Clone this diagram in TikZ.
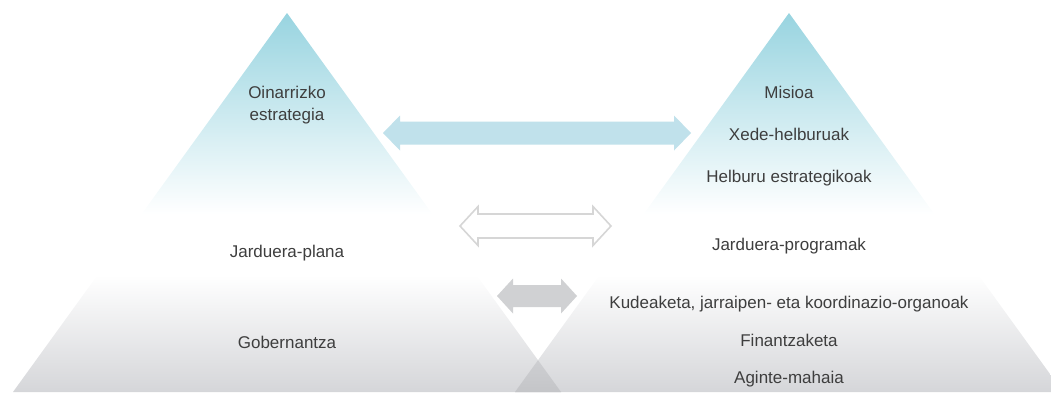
\documentclass[tikz,border=0pt]{standalone}
\usepackage{fontspec}
\setmainfont{Liberation Sans}
\usetikzlibrary{calc}
\usetikzlibrary{positioning}

\definecolor{pyrblue}{RGB}{152,212,224}
\definecolor{pyrbluemid}{RGB}{184,226,235}
\definecolor{pyrgray}{RGB}{213,214,217}
\definecolor{overgray}{RGB}{196,197,200}
\definecolor{overgraytop}{RGB}{206,207,210}
\definecolor{arrowblue}{RGB}{192,225,235}
\definecolor{arrowgray}{RGB}{208,209,211}
\definecolor{rimgray}{RGB}{214,214,214}
\definecolor{textgray}{RGB}{62,62,62}

% double arrow outline: left tip, right tip, head length, shaft half, head half
\newcommand{\twoheadpath}[5]{(#1) -- ($(#1)+(#3,-#5)$) -- ($(#1)+(#3,-#4)$)
  -- ($(#2)+(-#3,-#4)$) -- ($(#2)+(-#3,-#5)$) -- (#2)
  -- ($(#2)+(-#3,#5)$) -- ($(#2)+(-#3,#4)$)
  -- ($(#1)+(#3,#4)$) -- ($(#1)+(#3,#5)$) -- cycle}

\tikzset{
  pyrtext/.style={text=textgray, font=\fontsize{17}{22.6}\selectfont, inner sep=0pt},
  whiterim/.style={preaction={draw=white, line width=8pt, line join=miter}},
}

\begin{document}
\begin{tikzpicture}[x=1pt, y=-1pt]
  \useasboundingbox (0,0) rectangle (1051,392);
  \clip (0,0) rectangle (1051,392);
  % apexes and base corners of the two pyramids
  \foreach \name/\x in {L/287,R/789}
  {
    \coordinate (top\name) at (\x, 13);% apex
    \coordinate (bl\name) at (\x-274, 392);% base left
    \coordinate (br\name) at (\x+274, 392);% base right
  }
  % blue upper band and gray lower band of each pyramid
  \foreach \name in {L,R}
  {
    \begin{scope}
      \clip (top\name) -- (bl\name) -- (br\name) -- cycle;
      \shade[top color=pyrblue, middle color=pyrbluemid, bottom color=white] (0,13) rectangle (1051,214);
      \shade[top color=white, bottom color=pyrgray] (0,275) rectangle (1051,392);
    \end{scope}
  }
  % darker overlap of the two bases
  \begin{scope}
    \clip (topL) -- (blL) -- (brL) -- cycle;
    \clip (topR) -- (blR) -- (brR) -- cycle;
    \shade[top color=overgraytop, bottom color=overgray] (500,358) rectangle (580,392);
  \end{scope}
  % arrow ends
  \coordinate (blueA) at (383, 133);
  \coordinate (blueB) at (691, 133);
  \coordinate (rimA) at (460, 226);
  \coordinate (rimB) at (611, 226);
  \coordinate (grayA) at (497, 296);
  \coordinate (grayB) at (577, 296);
  % double arrows between the pyramids
  \fill[arrowblue, whiterim] \twoheadpath{blueA}{blueB}{17}{11.5}{17.5};
  \filldraw[fill=white, draw=rimgray, line width=1.6pt] \twoheadpath{rimA}{rimB}{18}{12}{19.5};
  \fill[arrowgray, whiterim] \twoheadpath{grayA}{grayB}{16}{11}{17.5};
  % left pyramid texts
  \node[pyrtext, align=center] (base) at (287, 105) {Oinarrizko\\estrategia};
  \node[pyrtext, anchor=base] (plan) at (287, 257.4) {Jarduera-plana};
  \node[pyrtext, anchor=base] (gov) at (287, 348) {Gobernantza};
  % right pyramid texts
  \node[pyrtext, anchor=base] (mis) at (789, 98.2) {Misioa};
  \node[pyrtext, anchor=base] (xede) at (789, 140) {Xede-helburuak};
  \node[pyrtext, anchor=base] (goal) at (789, 182) {Helburu estrategikoak};
  \node[pyrtext, anchor=base] (prog) at (789, 250.6) {Jarduera-programak};
  \node[pyrtext, anchor=base] (org) at (789, 308) {Kudeaketa, jarraipen- eta koordinazio-organoak};
  \node[pyrtext, anchor=base] (fin) at (789, 346) {Finantzaketa};
  \node[pyrtext, anchor=base] (dash) at (789, 383.7) {Aginte-mahaia};
\end{tikzpicture}
\end{document}
